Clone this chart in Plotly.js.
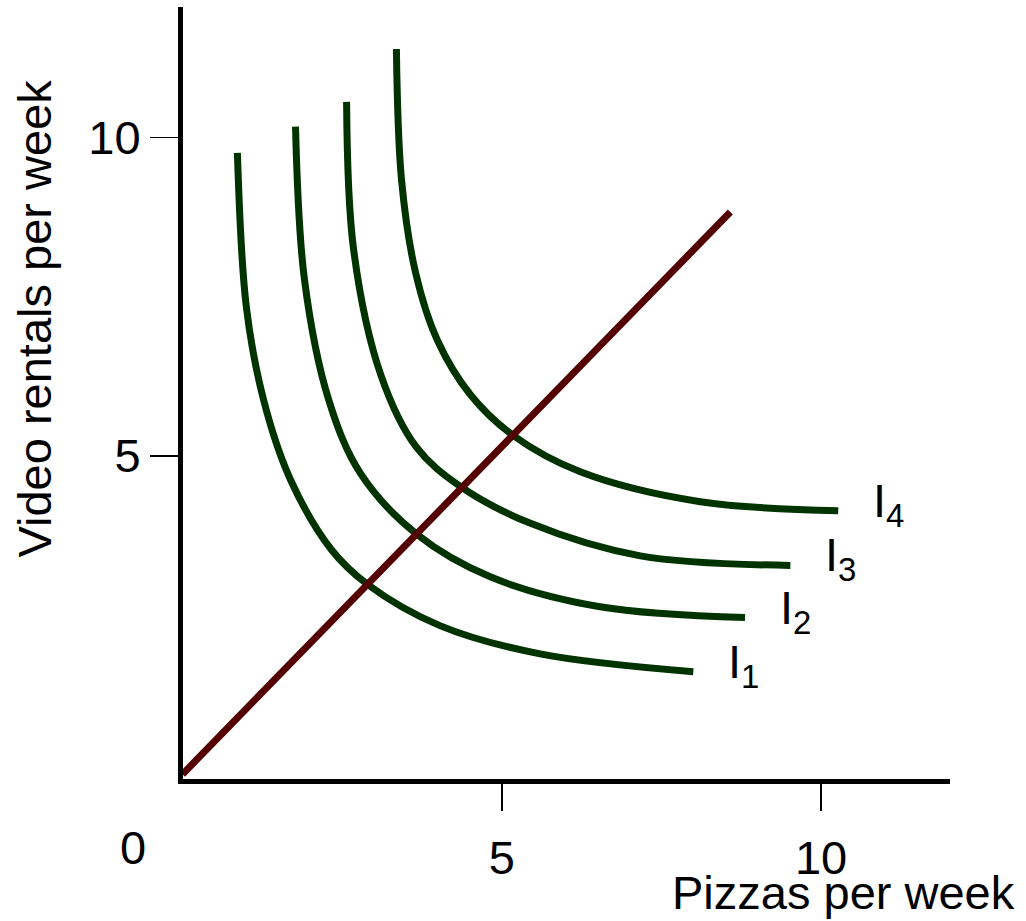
<!DOCTYPE html>
<html>
<head>
<meta charset="utf-8">
<script src="https://cdn.plot.ly/plotly-3.0.1.min.js"></script>
<style>
  html, body { margin: 0; padding: 0; background: #ffffff; }
  #chart { width: 1026px; height: 921px; }
</style>
</head>
<body>
<div id="chart"></div>
<script>
// Indifference curves for pizzas vs. video rentals, with a ray from the origin.
const curveNames = ['1', '2', '3', '4'];

const i1X = [0.86, 1.00, 1.27, 1.69, 2.33, 2.90, 4.04, 5.60, 8.00];
const i1Y = [9.76, 7.34, 5.88, 4.63, 3.53, 2.98, 2.33, 1.89, 1.61];

const i2X = [1.77, 1.91, 2.29, 2.79, 3.68, 4.82, 6.54, 8.81];
const i2Y = [10.17, 7.77, 5.88, 4.72, 3.76, 3.10, 2.63, 2.46];

const i3X = [2.57, 2.68, 3.11, 3.66, 4.35, 5.45, 7.17, 9.52];
const i3Y = [10.56, 8.24, 6.26, 5.14, 4.52, 3.94, 3.43, 3.28];

const i4X = [3.35, 3.43, 3.65, 3.99, 4.51, 5.18, 6.23, 8.11, 10.27];
const i4Y = [11.39, 9.34, 7.88, 6.82, 5.96, 5.32, 4.75, 4.28, 4.14];

const rayX = [0, 8.58];
const rayY = [0, 8.83];

const xTicks = [5, 10];
const yTicks = [5, 10];

const FONT = 'Liberation Sans, Arial, Helvetica, sans-serif';
const GREEN = '#003300';
const MAROON = '#550000';

const curves = [[i1X, i1Y], [i2X, i2Y], [i3X, i3Y], [i4X, i4Y]];

const traces = curves.map(([xs, ys], k) => ({
  type: 'scatter', mode: 'lines', x: xs, y: ys,
  name: 'I' + curveNames[k],
  line: { color: GREEN, width: 7, shape: 'spline', smoothing: 1 },
  hoverinfo: 'skip'
}));
traces.push({
  type: 'scatter', mode: 'lines', x: rayX, y: rayY, name: 'ray',
  line: { color: MAROON, width: 7 }, hoverinfo: 'skip'
});

// Curve labels sit just right of each curve's last point
const curveLabels = curves.map(([xs, ys], k) => ({
  x: xs[xs.length - 1], y: ys[ys.length - 1], xref: 'x', yref: 'y',
  text: 'I<sub>' + curveNames[k] + '</sub>',
  showarrow: false, xanchor: 'left', yanchor: 'middle',
  xshift: 33, yshift: 7,
  font: { family: FONT, size: 47, color: '#000' }
}));

const axisCommon = {
  showline: true, linecolor: '#000', linewidth: 5,
  showgrid: false, zeroline: false,
  ticks: 'outside', tickcolor: '#000', tickwidth: 1.5,
  tickfont: { family: FONT, size: 47, color: '#000' },
  fixedrange: true
};

const layout = {
  width: 1026, height: 921,
  margin: { l: 182.5, r: 76, t: 7, b: 141.5, pad: 0 },
  paper_bgcolor: '#fff', plot_bgcolor: '#fff',
  showlegend: false,
  font: { family: FONT, color: '#000' },
  xaxis: Object.assign({}, axisCommon, {
    range: [0.008, 12.02], tickvals: xTicks, ticktext: xTicks.map(String),
    ticklen: 27, ticklabelstandoff: 7
  }),
  yaxis: Object.assign({}, axisCommon, {
    range: [-0.075, 12.05], tickvals: yTicks, ticktext: yTicks.map(String),
    ticklen: 28, ticklabelstandoff: 3.5
  }),
  annotations: curveLabels.concat([
    { xref: 'paper', yref: 'paper', x: -0.0658, y: -0.0893, text: '0',
      showarrow: false, xanchor: 'center', yanchor: 'middle',
      font: { family: FONT, size: 47, color: '#000' } },
    { xref: 'paper', yref: 'paper', x: 1.0873, y: -0.1467, text: 'Pizzas per week',
      showarrow: false, xanchor: 'right', yanchor: 'middle',
      font: { family: FONT, size: 47, color: '#000' } },
    { xref: 'paper', yref: 'paper', x: -0.1935, y: 0.596, text: 'Video rentals per week',
      textangle: -90, showarrow: false, xanchor: 'center', yanchor: 'middle',
      font: { family: FONT, size: 47, color: '#000' } }
  ])
};

Plotly.newPlot('chart', traces, layout, { staticPlot: true, displayModeBar: false });
</script>
</body>
</html>
